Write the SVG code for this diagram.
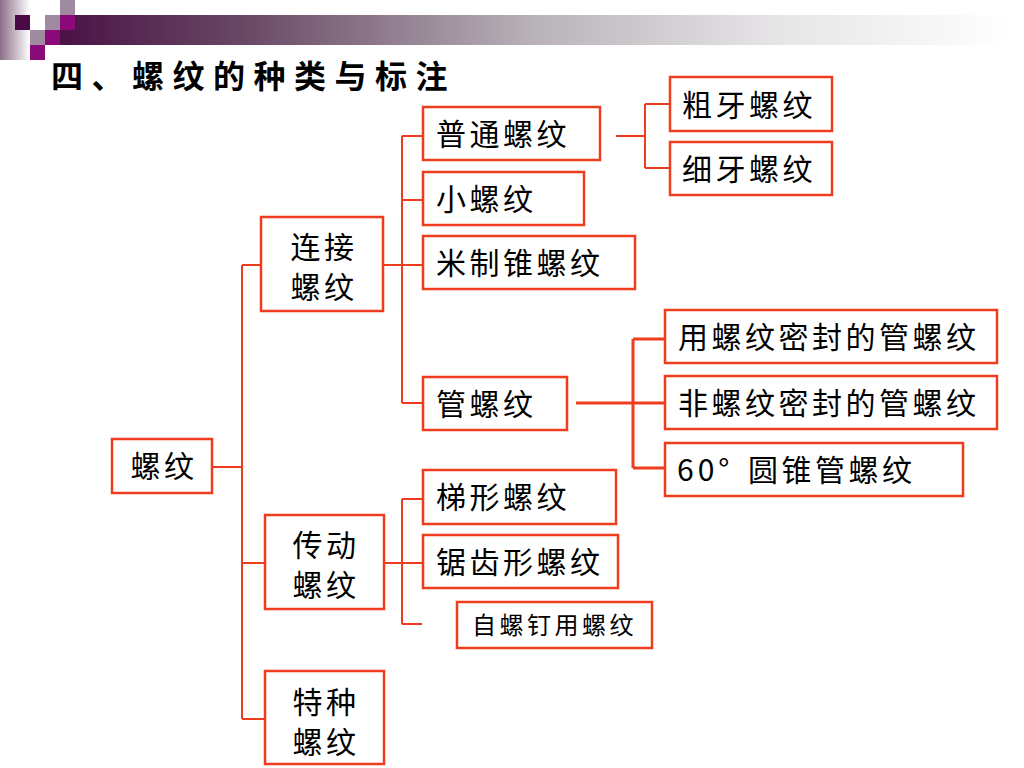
<svg xmlns="http://www.w3.org/2000/svg" width="1024" height="768" viewBox="0 0 1024 768">
<defs>
<linearGradient id="bar" x1="0" y1="0" x2="1" y2="0">
<stop offset="0" stop-color="#4a1245"/>
<stop offset="0.2" stop-color="#6a4a66"/>
<stop offset="0.5" stop-color="#b9b3b9"/>
<stop offset="0.75" stop-color="#e6e4e6"/>
<stop offset="1" stop-color="#ffffff"/>
</linearGradient>
<linearGradient id="side" x1="0" y1="0" x2="1" y2="0">
<stop offset="0" stop-color="#8c6e88"/>
<stop offset="1" stop-color="#ffffff"/>
</linearGradient>
<style>
.box{fill:#ffffff;stroke:#f03c1e;stroke-width:2.5}
.ln{fill:none;stroke:#f03c1e;stroke-width:2}
.thick{fill:none;stroke:#f03c1e;stroke-width:3}
.t{font-family:"Noto Sans CJK SC","Noto Sans CJK JP",sans-serif;font-size:30px;fill:#000;letter-spacing:3.5px}
.s{font-size:24px;letter-spacing:3.5px}
.c{text-anchor:middle}
.title{font-family:"Noto Sans CJK SC","Noto Sans CJK JP",sans-serif;font-size:32px;font-weight:bold;fill:#000;letter-spacing:8.5px}
</style>
</defs>
<rect width="1024" height="768" fill="#ffffff"/>
<g id="decor">
<rect x="0" y="0" width="30" height="60" fill="url(#side)"/>
<rect x="60" y="15" width="950" height="30" fill="url(#bar)"/>
<rect x="15" y="15" width="15" height="15" fill="#4a0a45"/>
<rect x="30" y="30" width="15" height="15" fill="#a08aa0"/>
<rect x="30" y="45" width="15" height="15" fill="#8a0a7a"/>
<rect x="45" y="15" width="15" height="15" fill="#a08aa0"/>
<rect x="45" y="30" width="15" height="15" fill="#8a0a7a"/>
<rect x="60" y="0" width="15" height="15" fill="#a08aa0"/>
<rect x="60" y="15" width="15" height="15" fill="#8a0a7a"/>
</g>
<text class="title" x="51" y="88">四、螺纹的种类与标注</text>
<g id="connectors">
<path class="ln" d="M212 467H242M242 265V719M242 265H261M242 563H265M242 719H265"/>
<path class="ln" d="M383 265H423M402 136V403M402 136H423M402 200H423M402 403H423"/>
<path class="ln" d="M616 136H645M645 104V168M645 104H670M645 168H670"/>
<path class="thick" d="M576 403H665M633 339V468M633 339H665M633 468H665"/>
<path class="ln" d="M384 563H423M402 499V624M402 499H423M402 624H422"/>
</g>
<g id="n-root"><rect class="box" x="112" y="439" width="100" height="54"/><text class="t c" x="164" y="477">螺纹</text></g>
<g id="n-lianjie"><rect class="box" x="261" y="217" width="122" height="94"/><text class="t c" x="324" y="258">连接</text><text class="t c" x="324" y="298">螺纹</text></g>
<g id="n-chuandong"><rect class="box" x="265" y="515" width="119" height="94"/><text class="t c" x="326" y="556">传动</text><text class="t c" x="326" y="596">螺纹</text></g>
<g id="n-tezhong"><rect class="box" x="265" y="671" width="119" height="93"/><text class="t c" x="326" y="713">特种</text><text class="t c" x="326" y="753">螺纹</text></g>
<g id="n-putong"><rect class="box" x="423" y="107" width="177" height="53"/><text class="t" x="436" y="145">普通螺纹</text></g>
<g id="n-xiao"><rect class="box" x="423" y="172" width="161" height="53"/><text class="t" x="436" y="210">小螺纹</text></g>
<g id="n-mizhi"><rect class="box" x="423" y="236" width="212" height="53"/><text class="t" x="436" y="274">米制锥螺纹</text></g>
<g id="n-guan"><rect class="box" x="423" y="377" width="144" height="53"/><text class="t" x="436" y="415">管螺纹</text></g>
<g id="n-cuya"><rect class="box" x="670" y="77" width="162" height="54"/><text class="t" x="682" y="116">粗牙螺纹</text></g>
<g id="n-xiya"><rect class="box" x="670" y="142" width="162" height="53"/><text class="t" x="682" y="180">细牙螺纹</text></g>
<g id="n-yong"><rect class="box" x="665" y="310" width="332" height="53"/><text class="t" x="678" y="348">用螺纹密封的管螺纹</text></g>
<g id="n-fei"><rect class="box" x="665" y="376" width="332" height="53"/><text class="t" x="678" y="414">非螺纹密封的管螺纹</text></g>
<g id="n-60"><rect class="box" x="665" y="443" width="298" height="53"/><text class="t" x="677" y="481"><tspan style="letter-spacing:4px">60°</tspan> <tspan x="748">圆锥管螺纹</tspan></text></g>
<g id="n-tixing"><rect class="box" x="423" y="470" width="193" height="54"/><text class="t" x="436" y="508">梯形螺纹</text></g>
<g id="n-juchi"><rect class="box" x="423" y="535" width="195" height="53"/><text class="t" x="436" y="573">锯齿形螺纹</text></g>
<g id="n-zi"><rect class="box" x="457" y="602" width="195" height="46"/><text class="t s" x="472" y="634">自螺钉用螺纹</text></g>
</svg>
